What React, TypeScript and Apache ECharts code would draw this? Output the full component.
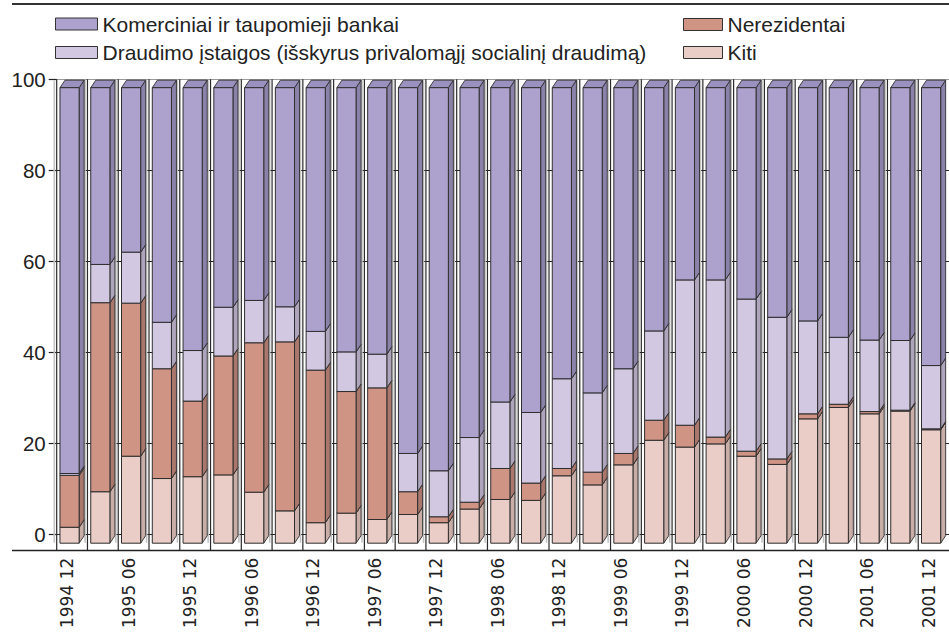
import React, { useEffect, useRef } from "react";
import * as echarts from "echarts";

const categories = [
  "1994 12", "1995 03", "1995 06", "1995 09", "1995 12", "1996 03", "1996 06", "1996 09",
  "1996 12", "1997 03", "1997 06", "1997 09", "1997 12", "1998 03", "1998 06", "1998 09",
  "1998 12", "1999 03", "1999 06", "1999 09", "1999 12", "2000 03", "2000 06", "2000 09",
  "2000 12", "2001 03", "2001 06", "2001 09", "2001 12",
];

const kiti = [3.5, 11.3, 19.1, 14.2, 14.6, 15.0, 11.2, 7.1, 4.5, 6.6, 5.2, 6.3, 4.5, 7.5, 9.6, 9.4, 14.8, 12.8, 17.2, 22.6, 21.1, 21.8, 19.1, 17.3, 27.3, 29.8, 28.4, 29.0, 24.9];
const nerezidentai = [11.4, 41.5, 33.6, 24.1, 16.6, 26.1, 32.8, 37.1, 33.5, 26.7, 28.9, 5.0, 1.3, 1.5, 6.8, 3.8, 1.6, 2.8, 2.5, 4.4, 4.8, 1.5, 1.1, 1.2, 1.1, 0.7, 0.5, 0.2, 0.2];
const draudimo = [0.4, 8.4, 11.2, 10.2, 11.1, 10.7, 9.3, 7.7, 8.5, 8.7, 7.4, 8.4, 10.1, 14.2, 14.6, 15.5, 19.7, 17.4, 18.6, 19.6, 31.9, 34.5, 33.4, 31.1, 20.4, 14.7, 15.7, 15.3, 13.9];
const komerciniai = [84.7, 38.8, 36.1, 51.5, 57.7, 48.2, 46.7, 48.1, 53.5, 58.0, 58.5, 80.3, 84.1, 76.8, 69.0, 71.3, 63.9, 67.0, 61.7, 53.4, 42.2, 42.2, 46.4, 50.4, 51.2, 54.8, 55.4, 55.5, 61.0];

const yTicks = [0, 20, 40, 60, 80, 100];

const NAMES = {
  kom: "Komerciniai ir taupomieji bankai",
  dra: "Draudimo įstaigos (išskyrus privalomąjį socialinį draudimą)",
  ner: "Nerezidentai",
  kit: "Kiti",
};

const FONT = "'Liberation Sans', Arial, Helvetica, sans-serif";
const XFONT = "'DejaVu Sans', 'Liberation Sans', sans-serif";

export default function App() {
  const ref = useRef<HTMLDivElement>(null);

  useEffect(() => {
    if (!ref.current) return;
    const chart = echarts.init(ref.current, null, { renderer: "svg" });

    const stacks = [
      { name: NAMES.kit, values: kiti, front: "#EBCDC7", side: "#C9AEA8", top: "#DCBFB8" },
      { name: NAMES.ner, values: nerezidentai, front: "#D09485", side: "#A9776B", top: "#BE8678" },
      { name: NAMES.dra, values: draudimo, front: "#D3C8E2", side: "#AEA5BD", top: "#C2B8D3" },
      { name: NAMES.kom, values: komerciniai, front: "#ADA2CE", side: "#8B82AA", top: "#9B91BE" },
    ];

    const base = categories.map(() => 0);
    const barSeries = stacks.map((s, si) => {
      const data = s.values.map((v, i) => {
        const lo = base[i];
        const hi = lo + v;
        base[i] = hi;
        return [i, lo, hi];
      });
      return {
        type: "custom",
        name: s.name,
        z: 3 + si,
        silent: true,
        itemStyle: { color: s.front },
        encode: { x: 0, y: [1, 2] },
        data,
        renderItem: (params: any, api: any) => {
          const i = api.value(0);
          const lo = api.value(1);
          const hi = api.value(2);
          const p0 = api.coord([i, lo]);
          const p1 = api.coord([i, hi]);
          const bw = api.size([1, 0])[0];
          const bs = p0[0] - bw / 2;
          const fx0 = bs + bw * (3.3 / 31);
          const fx1 = bs + bw * (22.6 / 31);
          const dx = 5;
          const dy = 7.5;
          const FY = 8.5;
          const yb = p0[1] + FY;
          const yt = p1[1] + FY;
          const stroke = "#2e2e2e";
          return {
            type: "group",
            children: [
              {
                type: "polygon",
                shape: { points: [[fx1, yb], [fx1 + dx, yb - dy], [fx1 + dx, yt - dy], [fx1, yt]] },
                style: { fill: s.side, stroke, lineWidth: 0.9 },
              },
              {
                type: "polygon",
                shape: { points: [[fx0, yt], [fx0 + dx, yt - dy], [fx1 + dx, yt - dy], [fx1, yt]] },
                style: { fill: s.top, stroke, lineWidth: 0.9 },
              },
              {
                type: "rect",
                shape: { x: fx0, y: yt, width: fx1 - fx0, height: yb - yt },
                style: { fill: s.front, stroke, lineWidth: 1 },
              },
            ],
          };
        },
      };
    });

    const frameSeries = {
      type: "custom",
      name: "frame",
      z: 1,
      silent: true,
      encode: { x: 0, y: [1, 2] },
      data: categories.map((_, i) => [i, 0, 100]),
      renderItem: (params: any, api: any) => {
        const i = api.value(0);
        const pTop = api.coord([i, 100]);
        const pBot = api.coord([i, 0]);
        const bw = api.size([1, 0])[0];
        const bs = pTop[0] - bw / 2;
        return {
          type: "group",
          children: [
            {
              type: "line",
              shape: { x1: bs - 2.4, y1: pTop[1] + 1, x2: bs - 2.4, y2: pBot[1] + 8 },
              style: { stroke: "#c4c4c4", lineWidth: 1.6 },
            },
            {
              type: "line",
              shape: { x1: bs, y1: pTop[1], x2: bs, y2: pBot[1] + 15.8 },
              style: { stroke: "#2a2a2a", lineWidth: 1.2 },
            },
          ],
        };
      },
    };

    const legendBase = {
      orient: "horizontal",
      padding: 0,
      itemHeight: 12,
      icon: "rect",
      selectedMode: false,
      textStyle: { fontFamily: FONT, fontSize: 21, color: "#222", lineHeight: 21 },
    };

    const legendItem = (name: string, color: string) => ({
      name,
      itemStyle: { color, borderColor: "#333", borderWidth: 1 },
    });

    chart.setOption({
      animation: false,
      backgroundColor: "#ffffff",
      grid: { left: 56.7, top: 79.2, width: 899, height: 455.5, containLabel: false },
      legend: [
        { ...legendBase, left: 55, top: 13.5, itemWidth: 42, data: [legendItem(NAMES.kom, "#ADA2CE")] },
        { ...legendBase, left: 55, top: 42, itemWidth: 42, data: [legendItem(NAMES.dra, "#D3C8E2")] },
        { ...legendBase, left: 683, top: 14, itemWidth: 39, data: [legendItem(NAMES.ner, "#D09485")] },
        { ...legendBase, left: 683, top: 42, itemWidth: 39, data: [legendItem(NAMES.kit, "#EBCDC7")] },
      ],
      xAxis: {
        type: "category",
        data: categories,
        boundaryGap: true,
        axisLine: { show: false },
        axisTick: { show: false },
        splitLine: { show: false },
        axisLabel: {
          interval: 1,
          rotate: 90,
          margin: 23,
          verticalAlign: "bottom",
          lineHeight: 10,
          fontFamily: XFONT,
          fontSize: 17,
          color: "#222",
        },
      },
      yAxis: {
        type: "value",
        min: 0,
        max: 100,
        interval: 20,
        axisLine: { show: false },
        axisTick: { show: true, length: 8, inside: false, lineStyle: { color: "#222", width: 1.2 } },
        axisLabel: {
          margin: 11,
          fontFamily: FONT,
          fontSize: 20.5,
          color: "#222",
          formatter: (v: number) => (yTicks.includes(v) ? String(v) : ""),
        },
        splitLine: {
          show: true,
          lineStyle: { color: ["#222", "#222", "#222", "#222", "#222", "#9a9a9a"], width: 1.2 },
        },
      },
      graphic: [
        { type: "line", shape: { x1: 12, y1: 4, x2: 949, y2: 4 }, style: { stroke: "#333", lineWidth: 2 }, z: 10 },
        { type: "line", shape: { x1: 12, y1: 550.5, x2: 949, y2: 550.5 }, style: { stroke: "#222", lineWidth: 1.5 }, z: 10 },
      ],
      series: [frameSeries, ...barSeries],
    });

    return () => chart.dispose();
  }, []);

  return (
    <div
      ref={ref}
      style={{ position: "fixed", left: 0, top: 0, width: 949, height: 632, background: "#fff" }}
    />
  );
}
